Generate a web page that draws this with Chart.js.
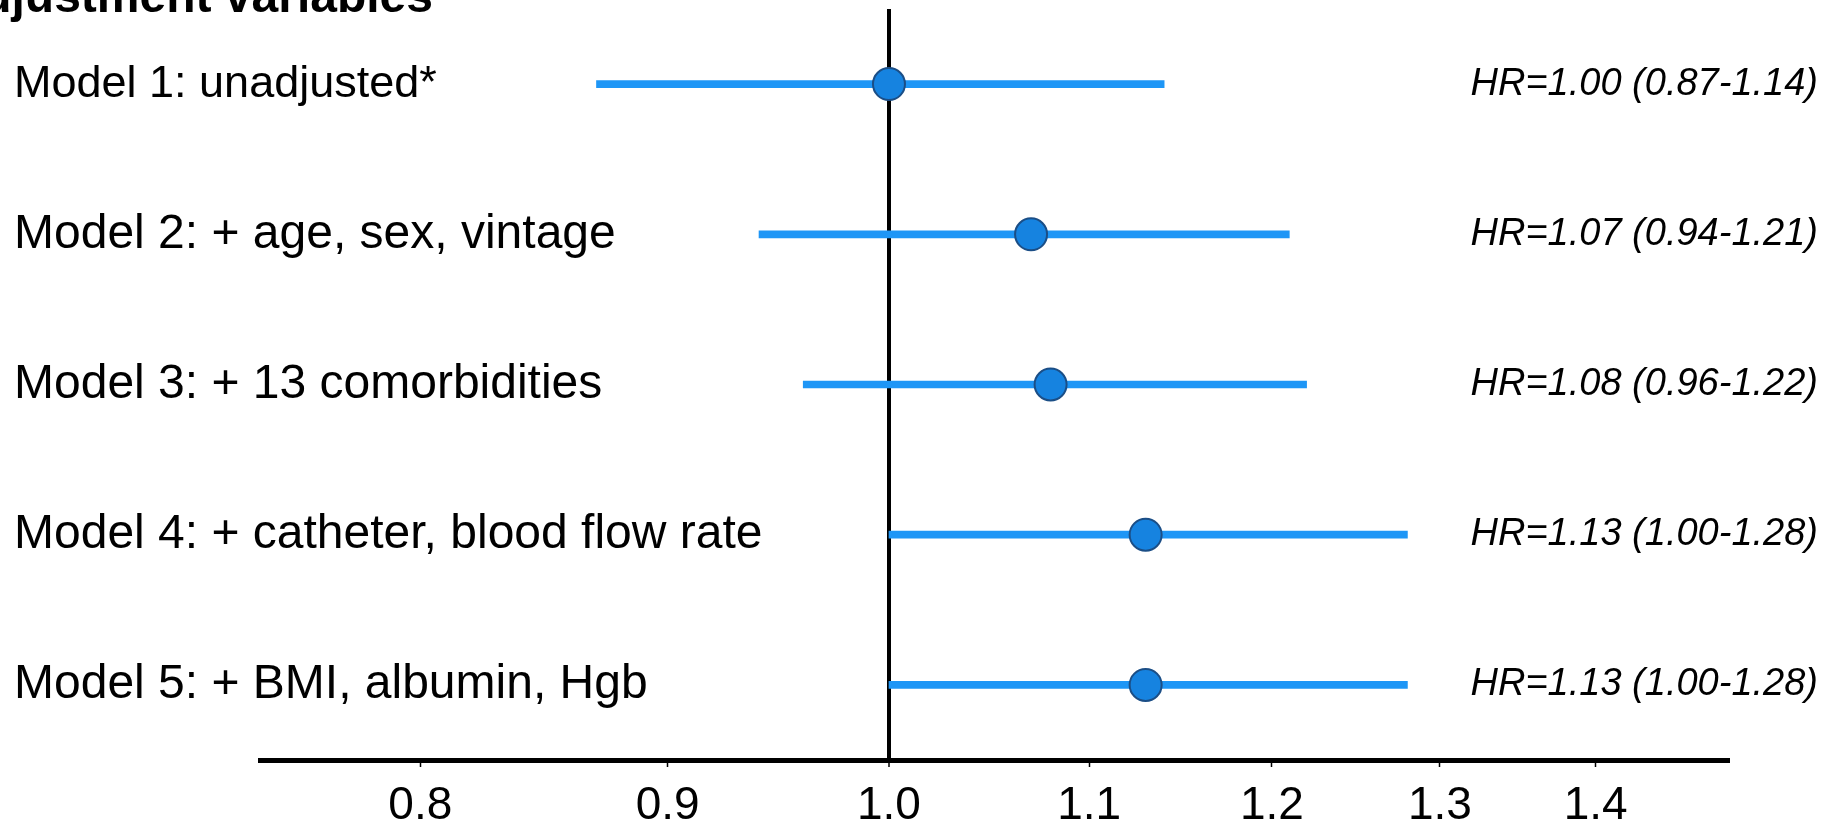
<!DOCTYPE html>
<html>
<head>
<meta charset="utf-8">
<script src="https://cdn.jsdelivr.net/npm/chart.js@4/dist/chart.umd.min.js"></script>
<style>
  html, body { margin: 0; padding: 0; background: #ffffff; }
  #wrap { width: 1825px; height: 826px; overflow: hidden; }
  canvas { display: block; }
</style>
</head>
<body>
<div id="wrap"><canvas id="forest" width="1825" height="826"></canvas></div>
<script>
// Adjustment models, top to bottom
const models = [
  'Model 1: unadjusted*',
  'Model 2: + age, sex, vintage',
  'Model 3: + 13 comorbidities',
  'Model 4: + catheter, blood flow rate',
  'Model 5: + BMI, albumin, Hgb'
];
// Hazard ratios with 95% confidence limits
const hazardRatio = [1.00, 1.07, 1.08, 1.13, 1.13];
const ciLower     = [0.87, 0.94, 0.96, 1.00, 1.00];
const ciUpper     = [1.14, 1.21, 1.22, 1.28, 1.28];
// Tick values of the log-scaled HR axis
const hrTicks = [0.8, 0.9, 1.0, 1.1, 1.2, 1.3, 1.4];
const headerText = 'Adjustment variables';

const hrText = hazardRatio.map((v, i) =>
  'HR=' + v.toFixed(2) + ' (' + ciLower[i].toFixed(2) + '-' + ciUpper[i].toFixed(2) + ')');

const sansFamily = '"Liberation Sans", Arial, Helvetica, sans-serif';

// Header drawn partly past the left edge of the canvas
const headerPlugin = {
  id: 'header',
  afterDraw(chart) {
    const ctx = chart.ctx;
    ctx.save();
    ctx.font = 'bold 48px ' + sansFamily;
    ctx.fillStyle = '#000';
    ctx.textBaseline = 'alphabetic';
    ctx.textAlign = 'left';
    const w = ctx.measureText(headerText).width;
    ctx.fillText(headerText, 433 - w, 12);
    ctx.restore();
  }
};

// Vertical scales: fixed width, no extra layout padding from label heights
function fixedWidth(w) {
  return function (scale) {
    scale.width = w;
    scale.paddingTop = 0;
    scale.paddingBottom = 0;
  };
}

new Chart(document.getElementById('forest'), {
  type: 'bar',
  data: {
    labels: models,
    datasets: [
      {
        type: 'line',
        label: 'HR',
        data: hazardRatio.map((v, i) => ({ x: v, y: models[i] })),
        showLine: false,
        pointRadius: 16,
        pointHoverRadius: 16,
        pointBorderWidth: 2,
        pointBackgroundColor: '#1683e0',
        pointBorderColor: '#1b4e86',
        order: 0
      },
      {
        label: '95% CI',
        data: ciLower.map((v, i) => [v, ciUpper[i]]),
        backgroundColor: '#1e96f6',
        borderWidth: 0,
        barThickness: 7,
        order: 1
      }
    ]
  },
  options: {
    indexAxis: 'y',
    responsive: false,
    animation: false,
    devicePixelRatio: 1,
    layout: { autoPadding: false, padding: { left: 14, right: 7, top: 9, bottom: 0 } },
    plugins: {
      legend: { display: false },
      tooltip: { enabled: false },
      title: { display: false }
    },
    scales: {
      x: {
        type: 'logarithmic',
        position: 'bottom',
        min: 0.7412,
        max: 1.4918,
        afterBuildTicks(scale) {
          scale.ticks = hrTicks.map(v => ({ value: v }));
        },
        afterFit(scale) {
          scale.height = 66;
          scale.paddingLeft = 0;
          scale.paddingRight = 0;
        },
        ticks: {
          autoSkip: false,
          maxRotation: 0,
          padding: 12,
          color: '#000',
          font: { family: sansFamily, size: 46 },
          callback: v => Number(v).toFixed(1)
        },
        grid: {
          drawOnChartArea: true,
          drawTicks: true,
          tickLength: 7,
          tickColor: '#000',
          tickWidth: 1.5,
          color: c => (c.tick && Math.abs(c.tick.value - 1) < 1e-9) ? '#000' : 'rgba(0,0,0,0)',
          lineWidth: c => (c.tick && Math.abs(c.tick.value - 1) < 1e-9) ? 4 : 1
        },
        border: { display: true, color: '#000', width: 5 }
      },
      y: {
        type: 'category',
        position: 'left',
        offset: true,
        afterFit: fixedWidth(246),
        ticks: {
          mirror: true,
          padding: -246,
          color: '#000',
          // the unadjusted model's label is set slightly smaller
          font: c => ({ family: sansFamily, size: c.index === 0 ? 45 : 48 })
        },
        grid: { display: false, drawTicks: false },
        border: { display: false }
      },
      yHR: {
        type: 'category',
        position: 'right',
        labels: hrText,
        offset: true,
        afterFit: fixedWidth(89),
        ticks: {
          mirror: true,
          padding: 89,
          color: '#000',
          font: { family: sansFamily, size: 38, style: 'italic' }
        },
        grid: { display: false, drawTicks: false },
        border: { display: false }
      }
    }
  },
  plugins: [headerPlugin]
});
</script>
</body>
</html>
